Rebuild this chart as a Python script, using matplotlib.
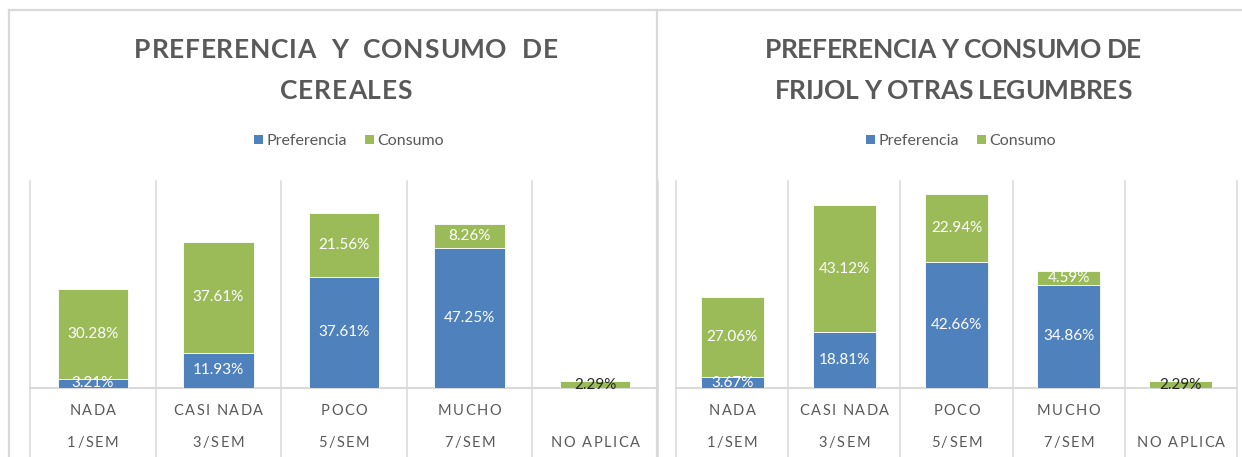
import numpy as np
import matplotlib
matplotlib.use("Agg")
import matplotlib.pyplot as plt
from matplotlib.font_manager import FontProperties
from matplotlib.patches import Patch
from matplotlib.lines import Line2D
from matplotlib.transforms import IdentityTransform

# ---- data -------------------------------------------------------------
cat_level1 = ["NADA", "CASI NADA", "POCO", "MUCHO", ""]
cat_level2 = ["1/SEM", "3/SEM", "5/SEM", "7/SEM", "NO APLICA"]

cereales_preferencia = [3.21, 11.93, 37.61, 47.25, 0.0]
cereales_consumo = [30.28, 37.61, 21.56, 8.26, 2.29]

frijol_preferencia = [3.67, 18.81, 42.66, 34.86, 0.0]
frijol_consumo = [27.06, 43.12, 22.94, 4.59, 2.29]

titles = [
    ["PREFERENCIA  Y  CONSUMO  DE", "CEREALES"],
    ["PREFERENCIA Y CONSUMO DE", "FRIJOL Y OTRAS LEGUMBRES"],
]
series_names = ["Preferencia", "Consumo"]

# ---- style ------------------------------------------------------------
BLUE = "#4F81BD"
GREEN = "#9BBB59"
TEXT = "#595959"
GRID = "#D9D9D9"
FONT = "Lato"

W, H = 1242, 457
DPI = 100
fig = plt.figure(figsize=(W / DPI, H / DPI), dpi=DPI)
fig.patch.set_facecolor("white")
renderer = fig.canvas.get_renderer()


def text_width(s, fp):
    w, _, _ = renderer.get_text_width_height_descent(s, fp, ismath=False)
    return w


def tracked_text(cx, y_base_px, s, size, weight="normal", color=TEXT, tracking=0.0):
    """Letter-spaced text centred on cx (px), baseline at image row y_base_px."""
    fp = FontProperties(family=FONT, size=size, weight=weight)
    ref = text_width("H", fp)
    offsets = [text_width(s[:i] + "H", fp) - ref for i in range(len(s))]
    total = text_width(s, fp) + tracking * (len(s) - 1)
    x0 = cx - total / 2.0
    yb = H - y_base_px
    for i, ch in enumerate(s):
        if ch == " ":
            continue
        fig.text(x0 + offsets[i] + tracking * i, yb, ch, fontproperties=fp,
                 color=color, ha="left", va="baseline",
                 transform=IdentityTransform())


# panel frame lines (image pixel coordinates)
def frame_line(xs, ys, lw=1.6):
    fig.add_artist(Line2D([x / W for x in xs], [1 - y / H for y in ys],
                          transform=fig.transFigure, color=GRID, lw=lw))


frame_line([9, W], [10, 10])
frame_line([9, 9], [10, H])
frame_line([657, 657], [10, H])

panels = [
    dict(x0=30, x1=658, pref=cereales_preferencia, cons=cereales_consumo,
         title=titles[0], tracking=0.75, tcx=346, lcx=349),
    dict(x0=676, x1=1237, pref=frijol_preferencia, cons=frijol_consumo,
         title=titles[1], tracking=-0.35, tcx=953, lcx=961),
]

base_y, top_y = 388, 181
for p in panels:
    ax = fig.add_axes([p["x0"] / W, 1 - base_y / H,
                       (p["x1"] - p["x0"]) / W, (base_y - top_y) / H])
    ax.set_xlim(-0.5, 4.5)
    ax.set_ylim(0, 70)
    ax.axis("off")
    x = np.arange(len(cat_level2))
    pref = np.array(p["pref"])
    cons = np.array(p["cons"])
    ax.bar(x, pref, width=0.56, color=BLUE, edgecolor="white", linewidth=0.6, zorder=3)
    ax.bar(x, cons, width=0.56, bottom=pref, color=GREEN, edgecolor="white",
           linewidth=0.6, zorder=3)

    # category separators running through the label area
    ymin = -(H - base_y) / (base_y - top_y)
    for b in np.arange(-0.5, 5.0, 1.0):
        ax.axvline(b, ymin=ymin, ymax=1.0, color=GRID, lw=1.1, clip_on=False, zorder=1)
    ax.axhline(0, color=GRID, lw=1.5, zorder=2, clip_on=False)

    # data labels
    for i in range(len(x)):
        if pref[i] > 0:
            ax.text(x[i], pref[i] / 2, f"{pref[i]:.2f}%", ha="center", va="center",
                    color="white", fontsize=11, family=FONT, zorder=5, clip_on=True)
        if cons[i] > 0:
            lone = pref[i] == 0
            ax.text(x[i], pref[i] + cons[i] / 2, f"{cons[i]:.2f}%", ha="center",
                    va="center", color="#262626" if lone else "white", fontsize=11,
                    family=FONT, zorder=5, clip_on=not lone)

    # two-level category labels
    for i in range(len(x)):
        cx = ax.transData.transform((x[i], 0))[0]
        if cat_level1[i]:
            tracked_text(cx, 415, cat_level1[i], 10.5, tracking=1.5)
        tracked_text(cx, 447, cat_level2[i], 10.5, tracking=1.5)

    # titles
    tracked_text(p["tcx"], 58, p["title"][0], 19, weight="bold", tracking=p["tracking"])
    tracked_text(p["tcx"], 99, p["title"][1], 19, weight="bold", tracking=p["tracking"])

    # legend
    handles = [Patch(facecolor=BLUE), Patch(facecolor=GREEN)]
    ax.legend(handles, series_names, loc="center", ncol=2, frameon=False,
              bbox_to_anchor=(p["lcx"] / W, 1 - 141 / H), bbox_transform=fig.transFigure,
              prop=FontProperties(family=FONT, size=11.5), labelcolor=TEXT,
              handlelength=0.55, handleheight=0.55, handletextpad=0.25,
              columnspacing=1.1, borderpad=0)

fig.savefig("out.png", dpi=DPI)
